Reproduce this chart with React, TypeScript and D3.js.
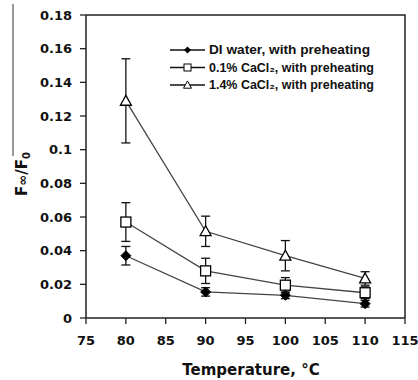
import React from "react";
import * as d3 from "d3";

const temperatures = [80, 90, 100, 110];
const diWater = [0.037, 0.0155, 0.0135, 0.0085];
const diWaterErr = [0.0055, 0.0025, 0.002, 0.002];
const cacl01 = [0.057, 0.028, 0.0195, 0.015];
const cacl01Err = [0.0115, 0.0075, 0.0045, 0.0035];
const cacl14 = [0.129, 0.0515, 0.037, 0.0235];
const cacl14Err = [0.025, 0.009, 0.009, 0.004];
const xTicks = [75, 80, 85, 90, 95, 100, 105, 110, 115];
const yTicks = [0, 0.02, 0.04, 0.06, 0.08, 0.1, 0.12, 0.14, 0.16, 0.18];
const legendLabels = [
  "DI water, with preheating",
  "0.1% CaCl\u2082, with preheating",
  "1.4% CaCl\u2082, with preheating",
];

const W = 418, H = 380;
const left = 86, right = 405, top = 15, bottom = 318;

export default function App() {
  const x = d3.scaleLinear().domain([75, 115]).range([left, right]);
  const y = d3.scaleLinear().domain([0, 0.18]).range([bottom, top]);
  const line = d3.line<number>().x((_, i) => x(temperatures[i])).y((d) => y(d));

  const series = [
    { vals: diWater, err: diWaterErr, shape: "diamond" },
    { vals: cacl01, err: cacl01Err, shape: "square" },
    { vals: cacl14, err: cacl14Err, shape: "triangle" },
  ];

  const marker = (shape: string, cx: number, cy: number, key: string) => {
    if (shape === "diamond") {
      const s = 5;
      return <path key={key} d={`M${cx},${cy - s}L${cx + s},${cy}L${cx},${cy + s}L${cx - s},${cy}Z`} fill="#000" stroke="#000" strokeWidth={1} />;
    }
    if (shape === "square") {
      return <rect key={key} x={cx - 5} y={cy - 5} width={10} height={10} fill="#fff" stroke="#000" strokeWidth={1.3} />;
    }
    const s = 5.5;
    return <path key={key} d={`M${cx},${cy - s}L${cx + s},${cy + s * 0.8}L${cx - s},${cy + s * 0.8}Z`} fill="#fff" stroke="#000" strokeWidth={1.3} />;
  };

  const legendMarker = (shape: string, cx: number, cy: number) => {
    if (shape === "diamond") {
      const s = 3.5;
      return <path d={`M${cx},${cy - s}L${cx + s},${cy}L${cx},${cy + s}L${cx - s},${cy}Z`} fill="#000" />;
    }
    if (shape === "square") {
      return <rect x={cx - 3.5} y={cy - 3.5} width={7} height={7} fill="#fff" stroke="#000" strokeWidth={1} />;
    }
    const s = 4;
    return <path d={`M${cx},${cy - s}L${cx + s},${cy + s * 0.8}L${cx - s},${cy + s * 0.8}Z`} fill="#fff" stroke="#000" strokeWidth={1} />;
  };

  const legendY = [50, 67.5, 85];

  return (
    <svg width={W} height={H} style={{ position: "absolute", left: 0, top: 0, background: "#fff" }}>
      <rect width={W} height={H} fill="#fff" />
      {/* stray line at left edge */}
      <line x1={13} x2={13} y1={4} y2={156} stroke="#333" strokeWidth={1} />
      {/* frame */}
      <path d={`M${left},${top}H${right}V${bottom}`} fill="none" stroke="#222" strokeWidth={1.5} />
      <line x1={left} x2={left} y1={top} y2={bottom} stroke="#222" strokeWidth={1.5} />
      <line x1={left} x2={right} y1={bottom} y2={bottom} stroke="#222" strokeWidth={1.5} />
      {/* y ticks */}
      {yTicks.map((t) => (
        <g key={"y" + t}>
          <line x1={left - 6} x2={left} y1={y(t)} y2={y(t)} stroke="#222" strokeWidth={1.3} />
          <text x={72} y={y(t)} dy="0.36em" textAnchor="end" fontFamily="DejaVu Sans" fontWeight="bold" fontSize={13} fill="#111">
            {d3.format("~g")(t)}
          </text>
        </g>
      ))}
      {/* x ticks */}
      {xTicks.map((t) => (
        <g key={"x" + t}>
          <line x1={x(t)} x2={x(t)} y1={bottom} y2={bottom + 6} stroke="#222" strokeWidth={1.3} />
          <text x={x(t)} y={345} textAnchor="middle" fontFamily="DejaVu Sans" fontWeight="bold" fontSize={13} fill="#111">
            {t}
          </text>
        </g>
      ))}
      {/* axis titles */}
      <text x={251} y={375} textAnchor="middle" fontFamily="DejaVu Sans" fontWeight="bold" fontSize={15} fill="#111">
        Temperature, °C
      </text>
      <text transform="translate(27,174) rotate(-90)" textAnchor="middle" fontFamily="DejaVu Sans" fontWeight="bold" fontSize={15} fill="#111">
        F<tspan fontSize={13}>∞</tspan>/F<tspan fontSize={10} dy={3}>0</tspan>
      </text>
      {/* series */}
      {series.map((s, si) => (
        <g key={"s" + si}>
          <path d={line(s.vals) || ""} fill="none" stroke="#444" strokeWidth={1.3} />
          {s.vals.map((v, i) => {
            const cx = x(temperatures[i]);
            const y1 = y(v + s.err[i]);
            const y2 = y(v - s.err[i]);
            return (
              <g key={"e" + i}>
                <line x1={cx} x2={cx} y1={y1} y2={y2} stroke="#111" strokeWidth={1.3} />
                <line x1={cx - 4.5} x2={cx + 4.5} y1={y1} y2={y1} stroke="#111" strokeWidth={1.3} />
                <line x1={cx - 4.5} x2={cx + 4.5} y1={y2} y2={y2} stroke="#111" strokeWidth={1.3} />
              </g>
            );
          })}
          {s.vals.map((v, i) => marker(s.shape, x(temperatures[i]), y(v), "m" + i))}
        </g>
      ))}
      {/* legend */}
      {series.map((s, si) => (
        <g key={"l" + si}>
          <line x1={170} x2={205} y1={legendY[si]} y2={legendY[si]} stroke="#111" strokeWidth={1.3} />
          {legendMarker(s.shape, 187.5, legendY[si])}
          <text x={209} y={legendY[si]} dy="0.35em" fontFamily="Liberation Sans" fontWeight="bold" fontSize={12} fill="#111" textLength={si === 0 ? 161 : 165} lengthAdjust="spacingAndGlyphs">
            {legendLabels[si]}
          </text>
        </g>
      ))}
    </svg>
  );
}
